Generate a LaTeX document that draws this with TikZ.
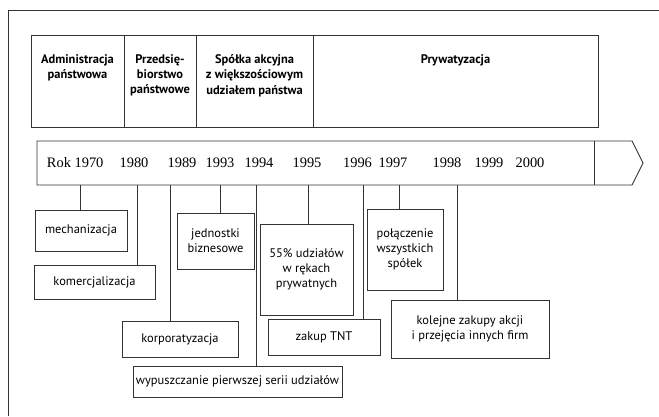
\documentclass[tikz,border=0pt]{standalone}
\usepackage{fontspec}
\setmainfont{Liberation Serif}
\setsansfont{PT Sans}
\usepackage{tikz}

\tikzset{
  frame/.style={draw=black!80, line width=0.9bp},
  event/.style={draw=black!80, line width=0.9bp, inner sep=1bp, align=center,
    font=\sffamily\fontsize{12.5}{15}\selectfont},
  period/.style={anchor=north, align=center, inner sep=0pt,
    font=\sffamily\bfseries\fontsize{12.5}{15.5}\selectfont},
  year/.style={inner sep=0pt, font=\fontsize{14.5}{14.5}\selectfont}
}

\begin{document}
\begin{tikzpicture}[x=1bp, y=-1bp]
  \useasboundingbox (0,0) rectangle (659,416);
  \draw [frame] (8,416) -- (8,10) -- (659,10);

  % periods
  \draw [frame] (31,35) rectangle (598,127);
  \foreach \x in {124, 196, 313} \draw [frame] (\x,35) -- (\x,127);
  \node [period] (adm) at (77.5,54) {Administracja\\państwowa};
  \node [period] (prz) at (160,54) {Przedsię-\\biorstwo\\państwowe};
  \node [period] (spk) at (254.5,54) {Spółka akcyjna\\z większościowym\\udziałem państwa};
  \node [period] (pry) at (455.5,54) {Prywatyzacja};

  % time axis
  \draw [frame] (37,141) -- (632,141) -- (643,163) -- (632,185) -- (37,185) -- cycle;
  \draw [frame] (594,141) -- (594,185);
  \node [year] (rok) at (59,163) {Rok};
  \foreach \yr/\xx in {1970/89, 1980/134, 1989/182, 1993/220, 1994/259, 1995/307,
    1996/357.5, 1997/393, 1998/447, 1999/489, 2000/530}
    \node [year] (y\yr) at (\xx,163) {\yr};
  \foreach \yr/\xx in {1970/80, 1980/137, 1989/170, 1993/220, 1994/256, 1995/308,
    1996/363, 1997/399, 1998/457}
    \coordinate (b\yr) at (\xx,185);

  % events
  \node [event, minimum width=92bp, minimum height=41bp] (mech) at (81,230.5) {mechanizacja};
  \node [event, minimum width=121bp, minimum height=34bp] (kom) at (94.5,282) {komercjalizacja};
  \node [event, minimum width=116bp, minimum height=36bp] (korp) at (180,339) {korporatyzacja};
  \node [event, minimum width=77bp, minimum height=56bp] (jedn) at (215.5,241) {jednostki\\biznesowe};
  \node [event, minimum width=209bp, minimum height=31bp] (wyp) at (237.5,381.5) {wypuszczanie pierwszej serii udziałów};
  \node [event, minimum width=93bp, minimum height=91bp] (pct) at (306.5,269.5) {55\% udziałów\\w rękach\\prywatnych};
  \node [event, minimum width=112bp, minimum height=36bp] (tnt) at (324,337) {zakup TNT};
  \node [event, minimum width=76bp, minimum height=81bp] (pol) at (405,249.5) {połączenie\\wszystkich\\spółek};
  \node [event, minimum width=158bp, minimum height=58bp] (kol) at (470,329) {kolejne zakupy akcji\\i przejęcia innych firm};

  \foreach \yr/\tgt in {1970/mech, 1980/kom, 1989/korp, 1993/jedn, 1994/wyp,
    1995/pct, 1996/tnt, 1997/pol, 1998/kol}
    \draw [frame] (b\yr) -- (b\yr |- \tgt.north);
\end{tikzpicture}
\end{document}
